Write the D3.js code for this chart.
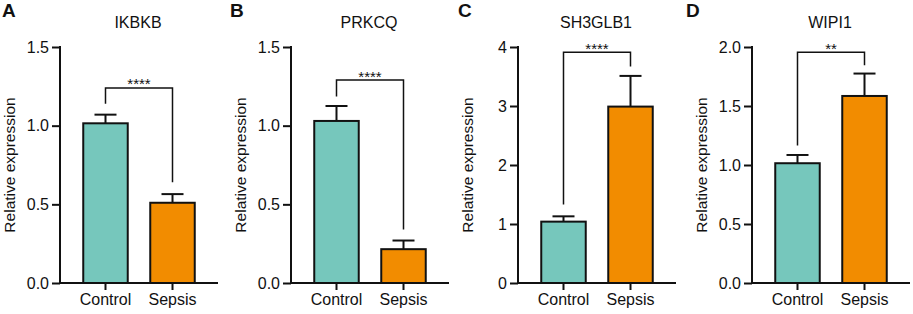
<!DOCTYPE html>
<html>
<head>
<meta charset="utf-8">
<script src="https://cdn.jsdelivr.net/npm/d3@7"></script>
<style>
  body { margin: 0; background: #fff; }
  text { font-family: Arial, "Liberation Sans", Helvetica, sans-serif; fill: #111; }
</style>
</head>
<body>
<script>
var w = 913;
var h = 314;

// data
var groups = ["Control", "Sepsis"];
var genes = ["IKBKB", "PRKCQ", "SH3GLB1", "WIPI1"];
var letters = ["A", "B", "C", "D"];
var controlMean = [1.015, 1.03, 1.04, 1.015];
var controlSd = [0.055, 0.095, 0.09, 0.07];
var sepsisMean = [0.51, 0.215, 2.99, 1.585];
var sepsisSd = [0.055, 0.055, 0.52, 0.19];
var yMax = [1.5, 1.5, 4, 2.0];
var yTicks = [[0, 0.5, 1.0, 1.5], [0, 0.5, 1.0, 1.5], [0, 1, 2, 3, 4], [0, 0.5, 1.0, 1.5, 2.0]];
var stars = ["****", "****", "****", "**"];
// bracket: top, left leg end, right leg end (data units)
var bracketTop = [1.24, 1.29, 3.91, 1.955];
var bracketLeft = [1.14, 1.185, 1.33, 1.165];
var bracketRight = [0.64, 0.34, 3.67, 1.845];

var colors = ["#76c7bc", "#f28c00"];

var axisX = [60, 291, 518, 752];
var panelLeft = [0, 228, 456, 684];
var plotW = 158;
var yTop = 47, yBottom = 283;
var fontSize = "16px";

var svg = d3.select("body")
    .append("svg")
    .attr("width", w)
    .attr("height", h);

genes.forEach(function(gene, i) {
    var g = svg.append("g");
    var x0 = axisX[i];

    var xScale = d3.scaleBand()
        .domain(groups)
        .range([x0, x0 + plotW])
        .paddingInner(0.336)
        .paddingOuter(0.347);

    var yScale = d3.scaleLinear()
        .domain([0, yMax[i]])
        .range([yBottom, yTop]);

    var fmt = yMax[i] === 4 ? d3.format("d") : d3.format(".1f");

    var bars = [
        {group: groups[0], mean: controlMean[i], sd: controlSd[i], color: colors[0]},
        {group: groups[1], mean: sepsisMean[i], sd: sepsisSd[i], color: colors[1]}
    ];

    // error bars (drawn first so bar covers the lower half)
    bars.forEach(function(d) {
        var cx = xScale(d.group) + xScale.bandwidth() / 2;
        g.append("line")
            .attr("x1", cx).attr("x2", cx)
            .attr("y1", yScale(d.mean)).attr("y2", yScale(d.mean + d.sd))
            .attr("stroke", "#111").attr("stroke-width", 2);
        g.append("line")
            .attr("x1", cx - 11).attr("x2", cx + 11)
            .attr("y1", yScale(d.mean + d.sd)).attr("y2", yScale(d.mean + d.sd))
            .attr("stroke", "#111").attr("stroke-width", 2);
    });

    g.selectAll("rect")
        .data(bars)
        .enter()
        .append("rect")
        .attr("x", function(d) { return xScale(d.group); })
        .attr("y", function(d) { return yScale(d.mean); })
        .attr("width", xScale.bandwidth())
        .attr("height", function(d) { return yScale(0) - yScale(d.mean); })
        .attr("fill", function(d) { return d.color; })
        .attr("stroke", "#111")
        .attr("stroke-width", 2);

    // y axis
    var yAxis = g.append("g")
        .attr("transform", "translate(" + x0 + ",0)")
        .call(d3.axisLeft(yScale).tickValues(yTicks[i]).tickFormat(fmt).tickSize(8).tickPadding(3));
    yAxis.select(".domain").attr("stroke", "#111").attr("stroke-width", 2)
        .attr("d", "M0," + (yTop - 1) + "V" + (yBottom + 1));
    yAxis.selectAll(".tick line").attr("stroke", "#111").attr("stroke-width", 2);
    yAxis.selectAll(".tick text").style("font-size", fontSize).style("font-family", "Arial, 'Liberation Sans', sans-serif").attr("fill", "#111");

    // x axis
    var xAxis = g.append("g")
        .attr("transform", "translate(0," + yBottom + ")")
        .call(d3.axisBottom(xScale).tickSize(7).tickPadding(4));
    xAxis.select(".domain").attr("stroke", "#111").attr("stroke-width", 2)
        .attr("d", "M" + (x0 - 1) + ",0H" + (x0 + plotW));
    xAxis.selectAll(".tick line").attr("stroke", "#111").attr("stroke-width", 2);
    xAxis.selectAll(".tick text").style("font-size", fontSize).style("font-family", "Arial, 'Liberation Sans', sans-serif").attr("fill", "#111");

    // significance bracket
    var lx = xScale(groups[0]) + xScale.bandwidth() / 2;
    var rx = xScale(groups[1]) + xScale.bandwidth() / 2;
    g.append("path")
        .attr("d", "M" + lx + "," + yScale(bracketLeft[i]) +
                   "V" + yScale(bracketTop[i]) +
                   "H" + rx +
                   "V" + yScale(bracketRight[i]))
        .attr("fill", "none")
        .attr("stroke", "#111")
        .attr("stroke-width", 1.5);
    g.append("text")
        .attr("x", (lx + rx) / 2)
        .attr("y", yScale(bracketTop[i]) + 1.5)
        .attr("text-anchor", "middle")
        .style("font-size", "15px")
        .text(stars[i]);

    // title
    g.append("text")
        .attr("x", x0 + plotW / 2 - 1)
        .attr("y", 28)
        .attr("text-anchor", "middle")
        .style("font-size", "16px")
        .text(gene);

    // y label
    g.append("text")
        .attr("transform", "translate(" + (x0 - 45) + "," + ((yTop + yBottom) / 2) + ") rotate(-90)")
        .attr("text-anchor", "middle")
        .style("font-size", "15.5px")
        .text("Relative expression");

    // panel letter
    g.append("text")
        .attr("x", panelLeft[i] + 2)
        .attr("y", 17)
        .style("font-size", "19px")
        .style("font-weight", "bold")
        .text(letters[i]);
});
</script>
</body>
</html>
